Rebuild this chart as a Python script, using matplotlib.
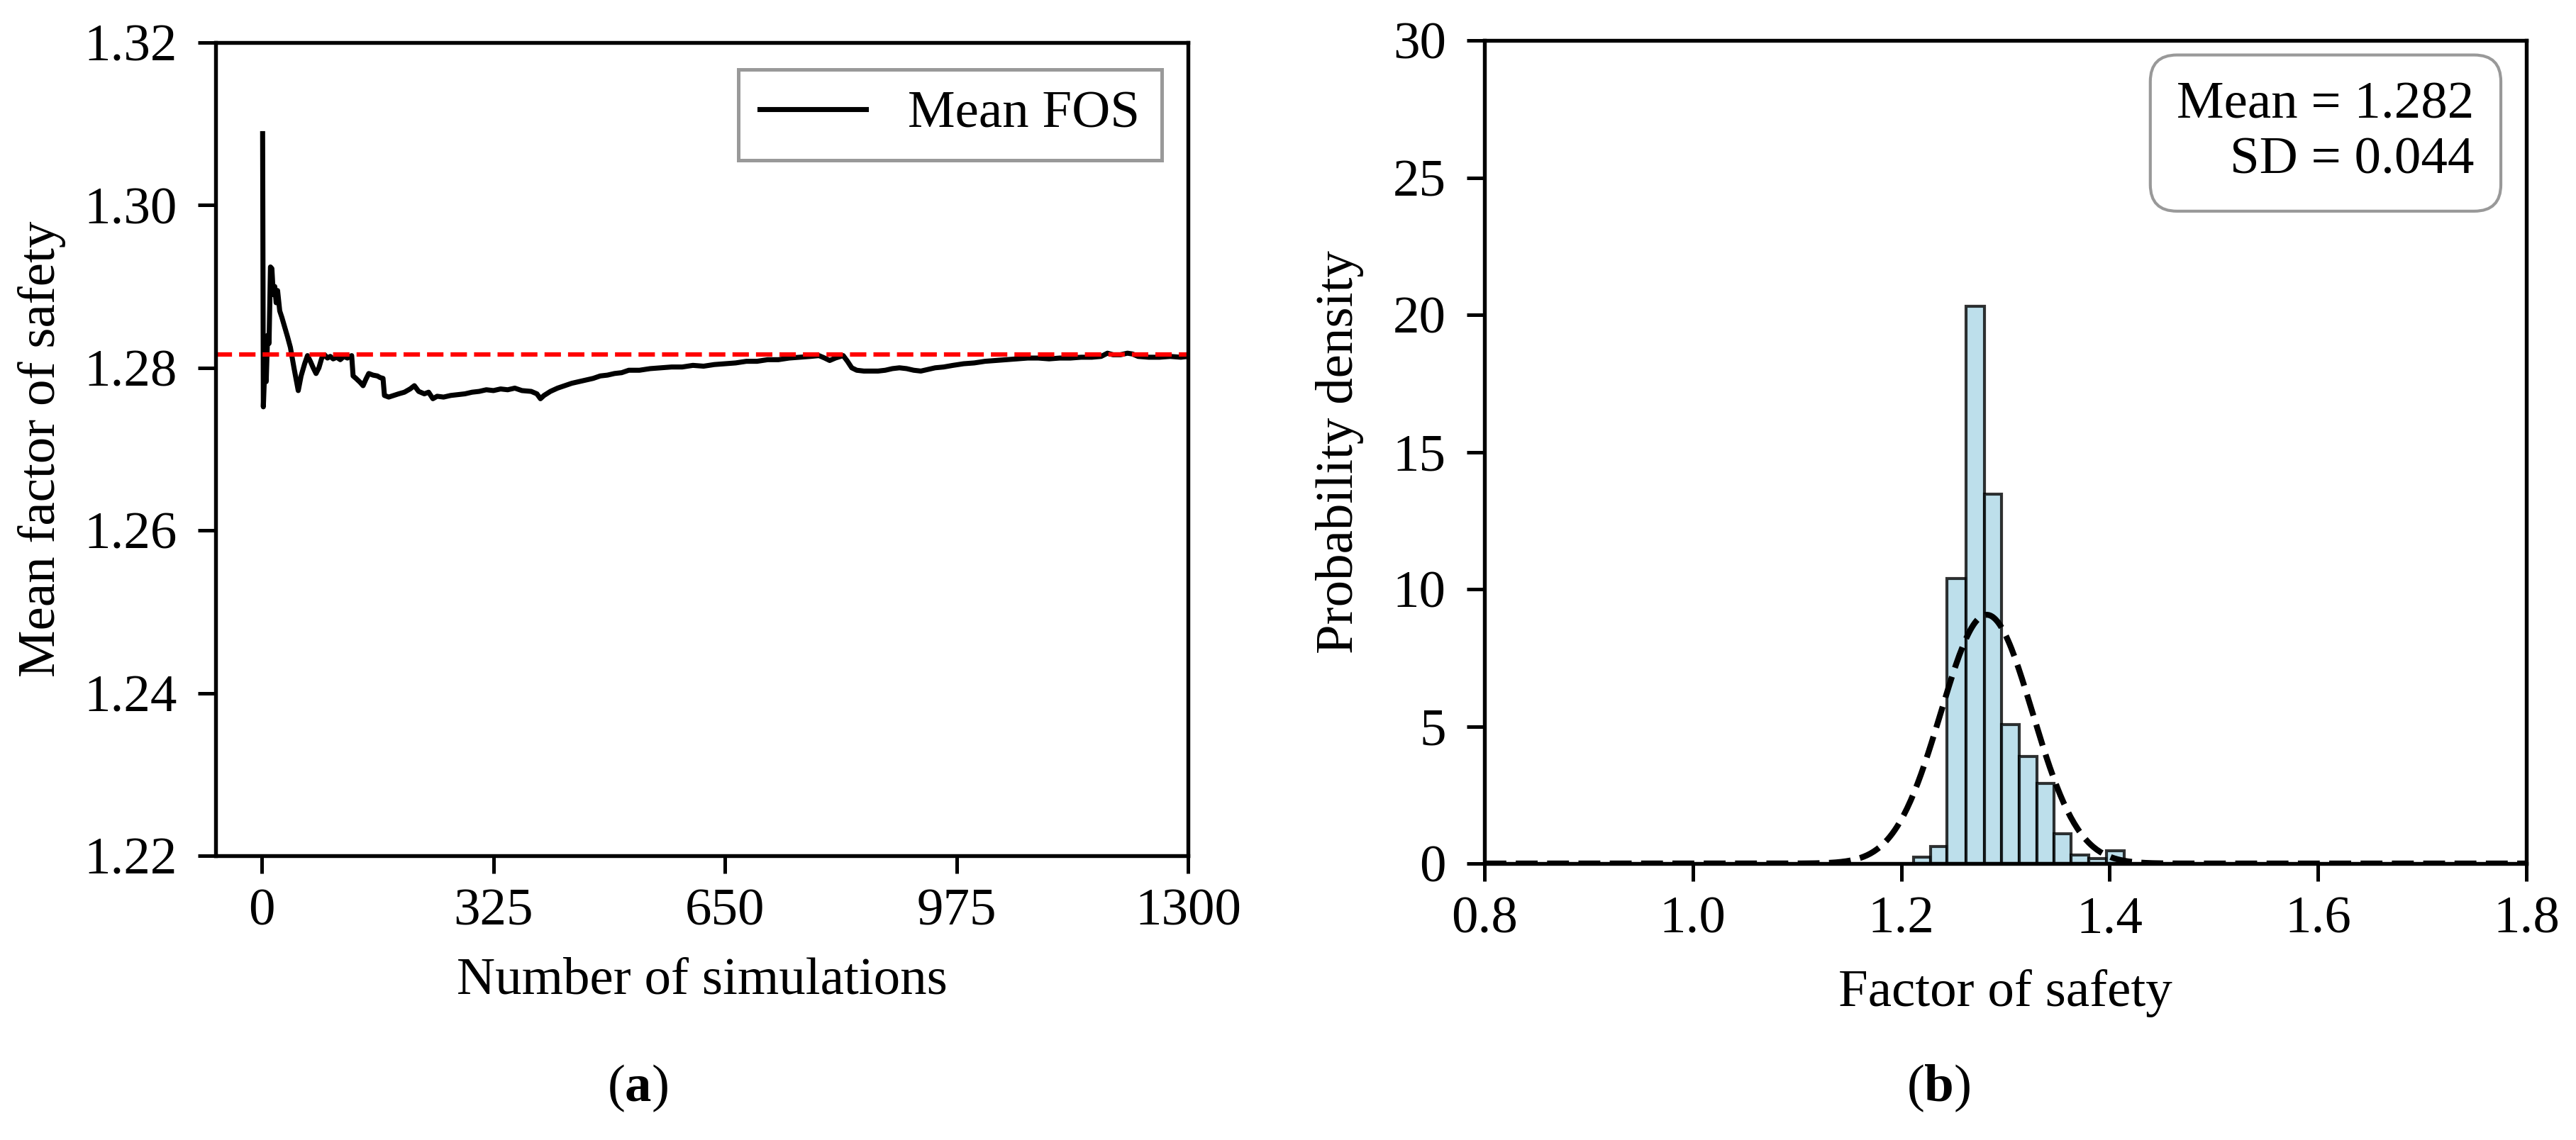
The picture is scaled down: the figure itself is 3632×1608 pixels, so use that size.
import numpy as np
import matplotlib
matplotlib.use("Agg")
import matplotlib.pyplot as plt

plt.rcParams['font.family'] = ['Liberation Serif', 'DejaVu Serif']
plt.rcParams['mathtext.fontset'] = 'custom'
plt.rcParams['mathtext.rm'] = 'Liberation Serif'
plt.rcParams['mathtext.bf'] = 'Liberation Serif:bold'
plt.rcParams['font.size'] = 18

# ---------------- data: (a) running mean FOS ----------------
sim_n = [1, 2, 4, 6, 8, 10, 12, 14, 16, 18, 20, 22, 25, 28, 32, 36, 40, 45, 51, 55,
         60, 64, 68, 72, 76, 80, 84, 88, 92, 96, 100, 105, 110, 115, 120, 126, 128, 132, 138, 142,
         146, 150, 156, 162, 166, 170, 172, 178, 185, 192, 200, 208, 214, 220, 228, 234, 240, 246, 255, 265,
         275, 285, 295, 305, 315, 325, 335, 345, 355, 365, 378, 386, 391, 396, 405, 415, 425, 435, 445, 455,
         465, 475, 485, 495, 505, 515, 530, 545, 560, 575, 590, 605, 620, 635, 650, 665, 680, 695, 710, 725,
         740, 755, 770, 782, 790, 797, 805, 816, 822, 828, 835, 845, 855, 865, 875, 885, 895, 905, 915, 925,
         935, 945, 957, 970, 985, 1000, 1015, 1030, 1045, 1060, 1075, 1090, 1105, 1120, 1135, 1150, 1165, 1178, 1187, 1195,
         1205, 1215, 1222, 1230, 1245, 1260, 1275, 1290, 1300]
mean_fos = [1.3088, 1.2752, 1.2800, 1.2783, 1.2840, 1.2830, 1.2924, 1.2922, 1.2890, 1.2900, 1.2880, 1.2895, 1.2870, 1.2862, 1.2850, 1.2838, 1.2825, 1.2800, 1.2772, 1.2790,
            1.2805, 1.2815, 1.2808, 1.2800, 1.2793, 1.2800, 1.2812, 1.2816, 1.2812, 1.2814, 1.2811, 1.2813, 1.2810, 1.2814, 1.2812, 1.2815, 1.2790, 1.2787, 1.2782, 1.2778,
            1.2786, 1.2793, 1.2791, 1.2790, 1.2788, 1.2787, 1.2766, 1.2764, 1.2766, 1.2768, 1.2770, 1.2774, 1.2778, 1.2771, 1.2768, 1.2770, 1.2762, 1.2765, 1.2764, 1.2766,
            1.2767, 1.2768, 1.2770, 1.2771, 1.2773, 1.2772, 1.2774, 1.2773, 1.2775, 1.2772, 1.2771, 1.2768, 1.2762, 1.2766, 1.2771, 1.2775, 1.2778, 1.2781, 1.2783, 1.2785,
            1.2787, 1.2790, 1.2791, 1.2793, 1.2794, 1.2797, 1.2797, 1.2799, 1.2800, 1.2801, 1.2801, 1.2803, 1.2802, 1.2804, 1.2805, 1.2806, 1.2808, 1.2808, 1.2810, 1.2810,
            1.2812, 1.2813, 1.2814, 1.2815, 1.2812, 1.2809, 1.2812, 1.2815, 1.2808, 1.2800, 1.2797, 1.2796, 1.2796, 1.2796, 1.2797, 1.2799, 1.2800, 1.2799, 1.2797, 1.2796,
            1.2798, 1.2800, 1.2801, 1.2803, 1.2805, 1.2806, 1.2808, 1.2809, 1.2810, 1.2811, 1.2812, 1.2812, 1.2811, 1.2812, 1.2812, 1.2813, 1.2813, 1.2814, 1.2818, 1.2816,
            1.2816, 1.2818, 1.2817, 1.2814, 1.2813, 1.2813, 1.2814, 1.2813, 1.2814]
overall_mean = 1.2816
x_ticks_a = [0, 325, 650, 975, 1300]
y_ticks_a = [1.22, 1.24, 1.26, 1.28, 1.30, 1.32]

# ---------------- data: (b) histogram ----------------
bin_edges = [1.2119, 1.2281, 1.2440, 1.2622, 1.2799, 1.2961, 1.3130, 1.3300,
             1.3469, 1.3631, 1.3800, 1.3969, 1.4139]
densities = [0.22, 0.62, 10.38, 20.32, 13.47, 5.07, 3.90, 2.92, 1.08, 0.30, 0.19, 0.47]
fos_mean = 1.282
fos_sd = 0.044
x_ticks_b = [0.8, 1.0, 1.2, 1.4, 1.6, 1.8]
y_ticks_b = [0, 5, 10, 15, 20, 25, 30]

W, H = 3632, 1608
fig = plt.figure(figsize=(W / 300, H / 300), dpi=300)

ax1 = fig.add_axes([304 / W, 1 - 1207 / H, 1371 / W, 1147 / H])
ax2 = fig.add_axes([2093 / W, 1 - 1218 / H, 1469 / W, 1161 / H])

for ax in (ax1, ax2):
    for s in ax.spines.values():
        s.set_linewidth(1.3)
    ax.tick_params(axis='both', length=6, width=1.2, labelsize=18)
    ax.tick_params(axis='y', pad=7)
    ax.tick_params(axis='x', pad=5)

# (a)
ax1.plot(sim_n, mean_fos, color='black', lw=1.7, label='Mean FOS')
ax1.axhline(overall_mean, color='red', ls='--', lw=1.5)
ax1.set_xlim(-65, 1300)
ax1.set_ylim(1.22, 1.32)
ax1.set_xticks(x_ticks_a)
ax1.set_yticks(y_ticks_a)
ax1.set_yticklabels([f"{v:.2f}" for v in y_ticks_a])
ax1.set_xlabel('Number of simulations', fontsize=18)
ax1.set_ylabel('Mean factor of safety', fontsize=18)
ax1.xaxis.set_label_coords(0.5, -0.125)
ax1.yaxis.set_label_coords(-0.154, 0.5)
leg = ax1.legend(loc='upper right', fancybox=False, fontsize=18, framealpha=1)
leg.get_frame().set_edgecolor('#999999')
leg.get_frame().set_linewidth(1.2)

# (b)
widths = np.diff(bin_edges)
ax2.bar(bin_edges[:-1], densities, width=widths, align='edge', color='lightblue',
        edgecolor='black', alpha=0.8, lw=1.0)
xs = np.linspace(0.8, 1.8, 600)
pdf = np.exp(-0.5 * ((xs - fos_mean) / fos_sd) ** 2) / (fos_sd * np.sqrt(2 * np.pi))
ax2.plot(xs, pdf, color='black', ls='--', lw=2.0)
ax2.set_xlim(0.8, 1.8)
ax2.set_ylim(0, 30)
ax2.set_xticks(x_ticks_b)
ax2.set_xticklabels([f"{v:.1f}" for v in x_ticks_b])
ax2.set_yticks(y_ticks_b)
ax2.set_xlabel('Factor of safety', fontsize=18)
ax2.set_ylabel('Probability density', fontsize=18)
ax2.xaxis.set_label_coords(0.5, -0.128)
ax2.yaxis.set_label_coords(-0.116, 0.5)
ax2.text(0.95, 0.95, f"Mean = {fos_mean:.3f}\nSD = {fos_sd:.3f}", transform=ax2.transAxes,
         ha='right', va='top', fontsize=18, multialignment='right',
         bbox=dict(boxstyle='round,pad=0.5', fc='white', ec='#999999', lw=1.0))

fig.text(899 / W, 1 - 1535 / H, r'($\mathbf{a}$)', ha='center', va='center', fontsize=18)
fig.text(2733 / W, 1 - 1535 / H, r'($\mathbf{b}$)', ha='center', va='center', fontsize=18)

fig.savefig('out.png', dpi=300)
